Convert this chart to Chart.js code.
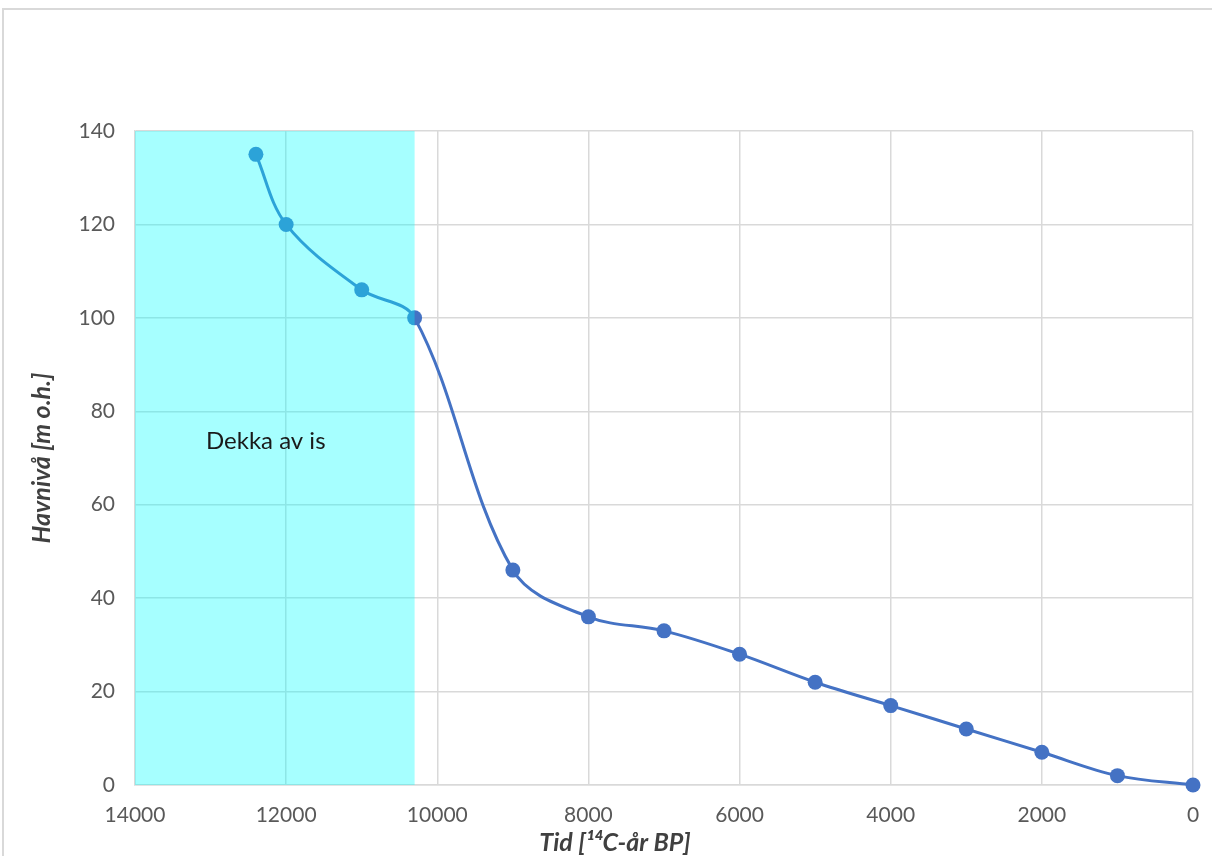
<!DOCTYPE html>
<html lang="no">
<head>
    <meta charset="UTF-8">
    <title>Havnivå</title>
    <script src="https://cdn.jsdelivr.net/npm/chart.js"></script>
    <style>
        html, body { margin: 0; padding: 0; background: #fff; }
        #wrap { width: 1212px; height: 856px; position: relative; }
    </style>
</head>
<body>
    <div id="wrap"><canvas id="seaChart"></canvas></div>

    <script>
        // Data
        const years = [12400, 12000, 11000, 10300, 9000, 8000, 7000, 6000, 5000, 4000, 3000, 2000, 1000, 0];
        const levels = [135, 120, 106, 100, 46, 36, 33, 28, 22, 17, 12, 7, 2, 0];
        const iceFrom = 14000;   // ice cover period (x range)
        const iceTo = 10300;
        const iceLabel = 'Dekka av is';
        const xTitle = 'Tid [\u00B9\u2074C-år BP]';
        const yTitle = 'Havnivå [m o.h.]';

        const points = years.map((x, i) => ({ x: x, y: levels[i] }));
        const fontFamily = 'Lato, "Open Sans", sans-serif';

        // Draws the outer frame, the ice box (over the line, semi-transparent) and the texts
        const overlay = {
            id: 'overlay',
            beforeDraw(chart) {
                const c = chart.ctx;
                c.save();
                c.fillStyle = '#ffffff';
                c.fillRect(0, 0, chart.width, chart.height);
                c.strokeStyle = '#d9d9d9';
                c.lineWidth = 2;
                c.beginPath();
                c.moveTo(3, chart.height);
                c.lineTo(3, 9);
                c.lineTo(chart.width, 9);
                c.stroke();
                c.restore();
            },
            afterDatasetsDraw(chart) {
                const c = chart.ctx;
                const xs = chart.scales.x, ys = chart.scales.y;
                const a = chart.chartArea;
                const x1 = xs.getPixelForValue(iceFrom);
                const x2 = xs.getPixelForValue(iceTo);
                c.save();
                c.fillStyle = 'rgba(0, 255, 255, 0.35)';
                c.fillRect(Math.min(x1, x2), a.top, Math.abs(x2 - x1), a.bottom - a.top);

                c.fillStyle = '#1a1a1a';
                c.font = '24px ' + fontFamily;
                c.textAlign = 'center';
                c.textBaseline = 'middle';
                c.fillText(iceLabel, xs.getPixelForValue(12270), ys.getPixelForValue(73.5));

                // x axis title, placed like in the original (left of centre)
                c.fillStyle = '#404040';
                c.font = 'bold italic 25px ' + fontFamily;
                c.fillText(xTitle, 615, 843);
                c.restore();
            }
        };

        const ctx = document.getElementById('seaChart').getContext('2d');
        new Chart(ctx, {
            type: 'line',
            data: {
                datasets: [{
                    data: points,
                    borderColor: '#4472c4',
                    backgroundColor: '#4472c4',
                    borderWidth: 3,
                    pointRadius: 7.5,
                    pointHoverRadius: 7.5,
                    pointBorderWidth: 0,
                    tension: 0.35,
                    fill: false,
                    clip: false
                }]
            },
            options: {
                responsive: true,
                maintainAspectRatio: false,
                animation: false,
                layout: { padding: { top: 131, right: 19, left: 0, bottom: 0 } },
                plugins: {
                    legend: { display: false },
                    tooltip: { enabled: false }
                },
                scales: {
                    x: {
                        type: 'linear',
                        reverse: true,
                        min: 0,
                        max: 14000,
                        afterFit: (s) => { s.height = 71; s.paddingLeft = 0; s.paddingRight = 0; },
                        ticks: {
                            stepSize: 2000,
                            padding: 18,
                            color: '#595959',
                            font: { family: fontFamily, size: 21 },
                            maxRotation: 0,
                            callback: (v) => String(v)
                        },
                        grid: { color: '#d9d9d9', lineWidth: 1.5, drawTicks: false },
                        border: { color: '#d9d9d9', width: 1.5 }
                    },
                    y: {
                        min: 0,
                        max: 140,
                        afterFit: (s) => { s.width = 135; s.paddingTop = 0; s.paddingBottom = 0; },
                        ticks: {
                            stepSize: 20,
                            padding: 20,
                            color: '#595959',
                            font: { family: fontFamily, size: 21 },
                            callback: (v) => String(v)
                        },
                        grid: { color: '#d9d9d9', lineWidth: 1.5, drawTicks: false },
                        border: { color: '#d9d9d9', width: 1.5 },
                        title: {
                            display: true,
                            text: yTitle,
                            color: '#404040',
                            font: { family: fontFamily, size: 25, weight: 'bold', style: 'italic' },
                            padding: { top: 27, bottom: 0 }
                        }
                    }
                }
            },
            plugins: [overlay]
        });
    </script>
</body>
</html>
